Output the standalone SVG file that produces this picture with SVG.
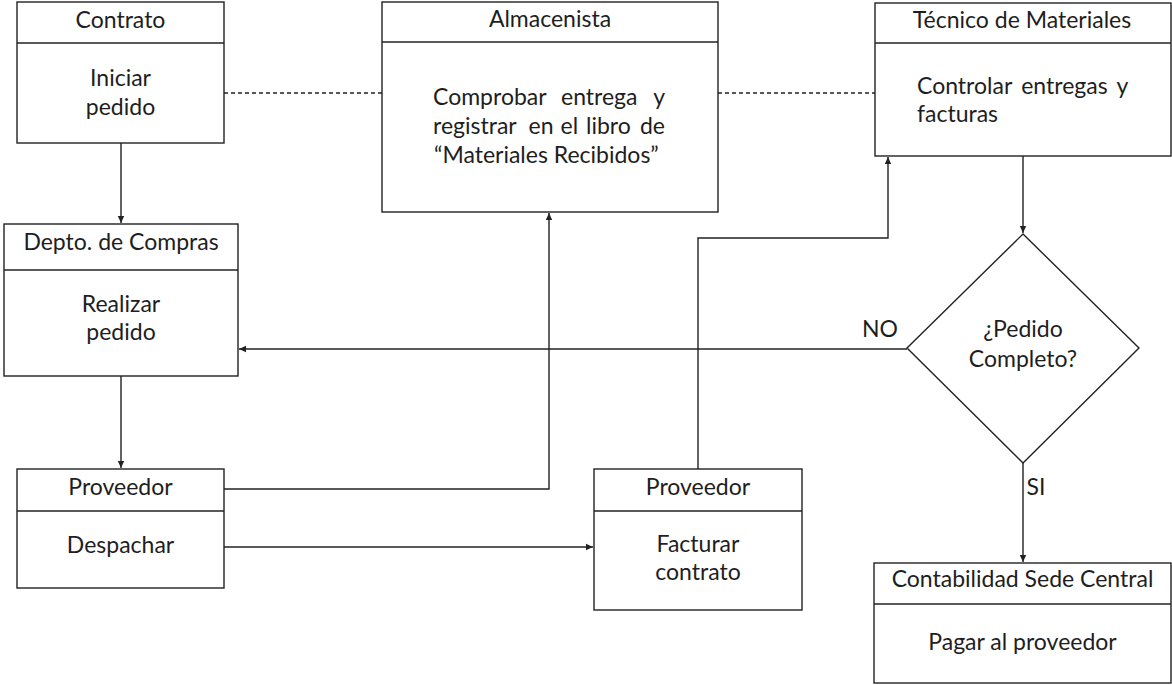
<svg xmlns="http://www.w3.org/2000/svg" width="1172" height="685" viewBox="0 0 1172 685">
<style>
  .box{fill:#fff;stroke:#222;stroke-width:1.4}
  .div{stroke:#222;stroke-width:1.4}
  .t{font-family:Lato,"Liberation Sans",sans-serif;font-size:23px;fill:#1e1e1e;text-anchor:middle}
  .l{text-anchor:start}
  .e{text-anchor:end}
  .c{fill:none;stroke:#222;stroke-width:1.4}
  .a{marker-end:url(#arr)}
  .d{stroke-dasharray:4 3}
</style>
<defs>
  <marker id="arr" markerUnits="userSpaceOnUse" markerWidth="8" markerHeight="8" viewBox="0 0 8 8" refX="7" refY="4" orient="auto">
    <path d="M0,0.8 L7,4 L0,7.2 Z" fill="#222"/>
  </marker>
</defs>
<rect width="1172" height="685" fill="#fff"/>
<g id="connectors">
  <path class="c a" d="M121,143 V223"/>
  <path class="c a" d="M121,376 V468"/>
  <path class="c a" d="M224,489 H549 V213"/>
  <path class="c a" d="M224,547 H593"/>
  <path class="c a" d="M698,469 V238 H888 V157"/>
  <path class="c a" d="M1023,156 V233"/>
  <path class="c a" d="M907,349 H239"/>
  <path class="c a" d="M1023,463 V562"/>
  <path class="c d" d="M224,93 H382"/>
  <path class="c d" d="M718,93 H875"/>
  <text class="t" x="880" y="337">NO</text>
  <text class="t" x="1036" y="495">SI</text>
</g>
<g id="contrato">
  <rect class="box" x="17" y="2" width="207" height="141"/>
  <line class="div" x1="17" y1="43" x2="224" y2="43"/>
  <text class="t" x="120.5" y="28">Contrato</text>
  <text class="t" x="120.5" y="86">Iniciar</text>
  <text class="t" x="120.5" y="115">pedido</text>
</g>
<g id="almacenista">
  <rect class="box" x="382" y="2" width="336" height="210"/>
  <line class="div" x1="382" y1="42" x2="718" y2="42"/>
  <text class="t" x="550" y="27">Almacenista</text>
  <text class="t l" x="433" y="105">Comprobar</text>
  <text class="t l" x="561" y="105">entrega</text>
  <text class="t e" x="665" y="105">y</text>
  <text class="t l" x="433" y="134">registrar</text>
  <text class="t l" x="528.5" y="134">en</text>
  <text class="t l" x="560.5" y="134">el</text>
  <text class="t l" x="586" y="134">libro</text>
  <text class="t e" x="665" y="134">de</text>
  <text class="t l" x="434" y="163">“Materiales Recibidos”</text>
</g>
<g id="tecnico">
  <rect class="box" x="875" y="3" width="296" height="153"/>
  <line class="div" x1="875" y1="43" x2="1171" y2="43"/>
  <text class="t" x="1022" y="28">Técnico de Materiales</text>
  <text class="t l" x="917" y="94" word-spacing="3.5">Controlar entregas y</text>
  <text class="t l" x="917" y="122">facturas</text>
</g>
<g id="depto">
  <rect class="box" x="4" y="224" width="234" height="152"/>
  <line class="div" x1="4" y1="270" x2="238" y2="270"/>
  <text class="t" x="121" y="250">Depto. de Compras</text>
  <text class="t" x="121" y="312">Realizar</text>
  <text class="t" x="121" y="340">pedido</text>
</g>
<g id="decision">
  <polygon class="box" points="1023,234 1139,348 1023,463 907,348"/>
  <text class="t" x="1023" y="337">¿Pedido</text>
  <text class="t" x="1023" y="367">Completo?</text>
</g>
<g id="proveedor1">
  <rect class="box" x="17" y="469" width="207" height="119"/>
  <line class="div" x1="17" y1="511" x2="224" y2="511"/>
  <text class="t" x="120.5" y="495">Proveedor</text>
  <text class="t" x="120.5" y="553">Despachar</text>
</g>
<g id="proveedor2">
  <rect class="box" x="594" y="469" width="208" height="141"/>
  <line class="div" x1="594" y1="511" x2="802" y2="511"/>
  <text class="t" x="698" y="495">Proveedor</text>
  <text class="t" x="698" y="552">Facturar</text>
  <text class="t" x="698" y="580">contrato</text>
</g>
<g id="contabilidad">
  <rect class="box" x="874" y="563" width="297" height="120"/>
  <line class="div" x1="874" y1="604" x2="1171" y2="604"/>
  <text class="t" x="1022.5" y="587">Contabilidad Sede Central</text>
  <text class="t" x="1022.5" y="650">Pagar al proveedor</text>
</g>
</svg>
